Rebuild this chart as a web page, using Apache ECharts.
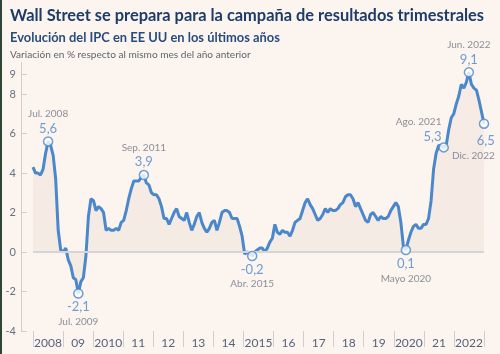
<!DOCTYPE html>
<html>
<head>
<meta charset="utf-8">
<script src="https://cdn.jsdelivr.net/npm/echarts@6/dist/echarts.min.js"></script>
<style>
  html, body { margin: 0; padding: 0; background: #fcf4ee; }
  #chart { width: 500px; height: 354px; }
</style>
</head>
<body>
<div id="chart"></div>
<script>
// IPC EE UU, variación interanual (%), enero 2008 - diciembre 2022
var years = ['2008', '09', '2010', '11', '12', '13', '14', '2015', '16', '17', '18', '19', '2020', '21', '2022'];
var ipc2008 = [4.3, 4.0, 4.0, 3.9, 4.2, 5.0, 5.6, 5.4, 4.9, 3.7, 1.1, 0.1];
var ipc2009 = [0.0, 0.2, -0.4, -0.7, -1.3, -1.4, -2.1, -1.5, -1.3, -0.2, 1.8, 2.7];
var ipc2010 = [2.6, 2.1, 2.3, 2.2, 2.0, 1.1, 1.2, 1.1, 1.1, 1.2, 1.1, 1.5];
var ipc2011 = [1.6, 2.1, 2.7, 3.2, 3.6, 3.6, 3.6, 3.8, 3.9, 3.5, 3.4, 3.0];
var ipc2012 = [2.9, 2.9, 2.7, 2.3, 1.7, 1.7, 1.4, 1.7, 2.0, 2.2, 1.8, 1.7];
var ipc2013 = [1.6, 2.0, 1.5, 1.1, 1.4, 1.8, 2.0, 1.5, 1.2, 1.0, 1.2, 1.5];
var ipc2014 = [1.6, 1.1, 1.5, 2.0, 2.1, 2.1, 2.0, 1.7, 1.7, 1.7, 1.3, 0.8];
var ipc2015 = [-0.1, 0.0, -0.1, -0.2, 0.0, 0.1, 0.2, 0.2, 0.0, 0.2, 0.5, 0.7];
var ipc2016 = [1.4, 1.0, 0.9, 1.1, 1.0, 1.0, 0.8, 1.1, 1.5, 1.6, 1.7, 2.1];
var ipc2017 = [2.5, 2.7, 2.4, 2.2, 1.9, 1.6, 1.7, 1.9, 2.2, 2.0, 2.2, 2.1];
var ipc2018 = [2.1, 2.2, 2.4, 2.5, 2.8, 2.9, 2.9, 2.7, 2.3, 2.5, 2.2, 1.9];
var ipc2019 = [1.6, 1.5, 1.9, 2.0, 1.8, 1.6, 1.8, 1.7, 1.7, 1.8, 2.1, 2.3];
var ipc2020 = [2.5, 2.3, 1.5, 0.3, 0.1, 0.6, 1.0, 1.3, 1.4, 1.2, 1.2, 1.4];
var ipc2021 = [1.4, 1.7, 2.6, 4.2, 5.0, 5.4, 5.4, 5.3, 5.4, 6.2, 6.8, 7.0];
var ipc2022 = [7.5, 7.9, 8.5, 8.3, 8.6, 9.1, 8.5, 8.3, 8.2, 7.7, 7.1, 6.5];
var yTicks = [-4, -2, 0, 2, 4, 6, 8, 9];

// puntos destacados: índice de mes (0 = ene. 2008) y texto de fecha
var annotMonth = [6, 18, 44, 87, 148, 163, 173, 179];
var annotDate = ['Jul. 2008', 'Jul. 2009', 'Sep. 2011', 'Abr. 2015', 'Mayo 2020', 'Ago. 2021', 'Jun. 2022', 'Dic. 2022'];

var ipc = [].concat(ipc2008, ipc2009, ipc2010, ipc2011, ipc2012, ipc2013, ipc2014, ipc2015,
    ipc2016, ipc2017, ipc2018, ipc2019, ipc2020, ipc2021, ipc2022);
var months = [];
for (var y = 2008; y <= 2022; y++) {
    for (var m = 1; m <= 12; m++) {
        months.push(y + '-' + (m < 10 ? '0' + m : m));
    }
}

var BLUE = '#4a87cb';
var fmt = function (v) { return String(v.toFixed(1)).replace('.', ','); };

// colocación de cada etiqueta
var labelLayout = {
    'Jul. 2008': { position: 'top', distance: 0, order: 'top' },
    'Jul. 2009': { position: 'bottom', distance: 1, order: 'bottom' },
    'Sep. 2011': { position: 'top', distance: 0, order: 'top' },
    'Abr. 2015': { position: 'bottom', distance: 1, order: 'bottom' },
    'Mayo 2020': { position: 'bottom', distance: 1, order: 'bottom' },
    'Ago. 2021': { position: [3, 2], align: 'right', verticalAlign: 'bottom', order: 'top' },
    'Jun. 2022': { position: 'top', distance: 0, order: 'top' },
    'Dic. 2022': { position: [16, 15], align: 'right', verticalAlign: 'top', order: 'bottom' }
};

var annotData = annotMonth.map(function (idx, i) {
    var lay = labelLayout[annotDate[i]];
    var a = lay.align || 'center';
    var txt = lay.order === 'top'
        ? '{d|' + annotDate[i] + '}\n{v|' + fmt(ipc[idx]) + '}'
        : '{v|' + fmt(ipc[idx]) + '}\n{d|' + annotDate[i] + '}';
    return {
        value: [idx, ipc[idx]],
        label: {
            show: true,
            position: lay.position,
            distance: lay.distance || 0,
            align: a,
            verticalAlign: lay.verticalAlign,
            formatter: txt,
            rich: {
                d: { fontSize: 10, color: '#6e7686', lineHeight: 14, align: a, fontFamily: 'Lato' },
                v: { fontSize: 13, color: BLUE, lineHeight: 15, align: a, fontFamily: 'Lato' }
            }
        }
    };
});

var myChart = echarts.init(document.getElementById('chart'));
var option = {
    backgroundColor: '#fcf4ee',
    textStyle: { fontFamily: 'Lato' },
    title: [{
        text: 'Wall Street se prepara para la campaña de resultados trimestrales',
        left: 5, top: 3,
        textStyle: { fontSize: 16.4, fontWeight: 'bold', color: '#1d3c6a', fontFamily: 'Lato' }
    }, {
        text: 'Evolución del IPC en EE UU en los últimos años',
        left: 5, top: 26,
        textStyle: { fontSize: 12.9, fontWeight: 'bold', color: '#284c7e', fontFamily: 'Lato' }
    }, {
        text: 'Variación en % respecto al mismo mes del año anterior',
        left: 5, top: 45,
        textStyle: { fontSize: 10.1, fontWeight: 'normal', color: '#5f6470', fontFamily: 'Lato' }
    }],
    graphic: [{
        type: 'rect', left: 0, top: 0,
        shape: { width: 2, height: 354 },
        style: { fill: '#2e4638' }
    }],
    grid: { left: 33, right: 16, top: 62.5, bottom: 23 },
    xAxis: [{
        type: 'category',
        data: months,
        boundaryGap: false,
        show: false
    }, {
        type: 'category',
        data: years,
        position: 'bottom',
        boundaryGap: true,
        axisLine: { show: false },
        axisTick: { show: true, interval: 0, length: 16, lineStyle: { color: '#cfcdd3', width: 1 } },
        axisLabel: { interval: 0, margin: 6, fontSize: 12, color: '#56637b', fontFamily: 'Lato' },
        splitLine: { show: false }
    }],
    yAxis: {
        type: 'value',
        min: -4,
        max: 9.6,
        offset: 12,
        axisLine: { show: true, lineStyle: { color: '#cfcdd3', width: 1 } },
        axisTick: { show: true, inside: true, length: 6, customValues: yTicks, lineStyle: { color: '#cfcdd3' } },
        axisLabel: { margin: 5, fontSize: 11, color: '#6b7080', customValues: yTicks, fontFamily: 'Lato' },
        splitLine: { show: false }
    },
    series: [{
        type: 'line',
        data: ipc,
        xAxisIndex: 0,
        symbol: 'none',
        lineStyle: { color: BLUE, width: 3 },
        areaStyle: {
            color: new echarts.graphic.LinearGradient(0, 0, 0, 1, [
                { offset: 0, color: '#f6e7e1' },
                { offset: 1, color: '#efe7de' }
            ])
        },
        markLine: {
            silent: true,
            symbol: 'none',
            label: { show: false },
            lineStyle: { color: '#d8d4d6', width: 2, type: 'solid' },
            data: [{ yAxis: 0 }]
        },
        z: 2
    }, {
        type: 'scatter',
        xAxisIndex: 0,
        data: annotData,
        symbol: 'circle',
        symbolSize: 9,
        itemStyle: { color: '#ffffff', borderColor: BLUE, borderWidth: 1.5 },
        z: 5
    }]
};
myChart.setOption(option);
window.addEventListener('resize', function () {
    myChart.resize();
});
</script>
</body>
</html>
